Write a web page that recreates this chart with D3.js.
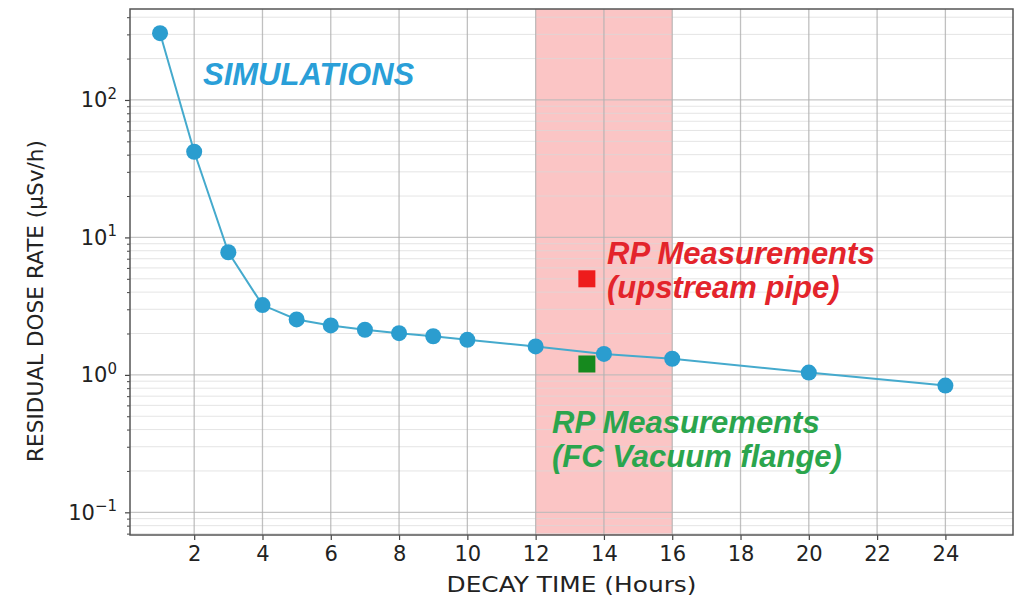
<!DOCTYPE html>
<html>
<head>
<meta charset="utf-8">
<script src="https://cdn.jsdelivr.net/npm/d3@7"></script>
<style>
  html, body { margin: 0; padding: 0; background: #fff; }
  svg { display: block; }
</style>
</head>
<body>
<svg id="chart" width="1023" height="598"></svg>
<script>
// Simulated residual dose rate vs decay time
const decayHours = [1, 2, 3, 4, 5, 6, 7, 8, 9, 10, 12, 14, 16, 20, 24];
const doseRate   = [306, 42, 7.8, 3.22, 2.53, 2.29, 2.13, 2.01, 1.91, 1.80, 1.61, 1.42, 1.31, 1.04, 0.836];

// RP measurements at 13.5 h
const measureHours = [13.5, 13.5];
const measureDose  = [5.0, 1.2];
const measureColors = ["#ee1c1c", "#16891e"];

// Shaded window of decay time
const windowHours = [12, 16];

const xTicks = [2, 4, 6, 8, 10, 12, 14, 16, 18, 20, 22, 24];
const yMajorTicks = [0.1, 1, 10, 100];
const yTickExp = ["\u22121", "0", "1", "2"];

const svg = d3.select("#chart");
const plotL = 130, plotR = 1013, plotT = 9, plotB = 535;

const x = d3.scaleLinear().domain([0.12, 25.98]).range([plotL, plotR]);
const y = d3.scaleLog().domain([0.0684, 459]).range([plotB, plotT]);

// minor log ticks 2..9 per decade
const yMinor = [];
for (const dec of [0.01, 0.1, 1, 10, 100]) {
  for (let k = 2; k <= 9; k++) {
    const v = dec * k;
    if (v >= y.domain()[0] && v <= y.domain()[1]) yMinor.push(v);
  }
}

// shaded span
svg.append("rect")
  .attr("x", x(windowHours[0]))
  .attr("y", plotT)
  .attr("width", x(windowHours[1]) - x(windowHours[0]))
  .attr("height", plotB - plotT)
  .attr("fill", "#fbc5c5");

// grids
const grid = svg.append("g");
grid.selectAll(".ymin").data(yMinor).join("line")
  .attr("x1", plotL).attr("x2", plotR)
  .attr("y1", d => y(d)).attr("y2", d => y(d))
  .attr("stroke", "#d8d8d8").attr("stroke-opacity", 0.7).attr("stroke-width", 1);
grid.selectAll(".ymaj").data(yMajorTicks).join("line")
  .attr("x1", plotL).attr("x2", plotR)
  .attr("y1", d => y(d)).attr("y2", d => y(d))
  .attr("stroke", "#b8b8b8").attr("stroke-opacity", 0.8).attr("stroke-width", 1.3);
grid.selectAll(".xmaj").data(xTicks).join("line")
  .attr("y1", plotT).attr("y2", plotB)
  .attr("x1", d => x(d)).attr("x2", d => x(d))
  .attr("stroke", "#b0b0b0").attr("stroke-opacity", 0.8).attr("stroke-width", 1.3);

// x axis
const xAxis = svg.append("g")
  .attr("transform", `translate(0,${plotB})`)
  .call(d3.axisBottom(x).tickValues(xTicks).tickSize(5).tickPadding(6).tickFormat(d3.format("d")));
xAxis.select(".domain").remove();
xAxis.selectAll("line").attr("stroke", "#444").attr("stroke-width", 1.2);
xAxis.selectAll("text")
  .attr("font-family", "DejaVu Sans").attr("font-size", 21).attr("fill", "#222");

// y axis major ticks
const yAxis = svg.append("g")
  .attr("transform", `translate(${plotL},0)`)
  .call(d3.axisLeft(y).tickValues(yMajorTicks).tickSize(5).tickPadding(8).tickFormat(() => ""));
yAxis.select(".domain").remove();
yAxis.selectAll("line").attr("stroke", "#444").attr("stroke-width", 1.2);
yAxis.selectAll(".tick text").each(function(d, i) {
  const t = d3.select(this)
    .attr("font-family", "DejaVu Sans").attr("font-size", 21).attr("fill", "#222")
    .attr("dy", "0.32em");
  t.append("tspan").text("10");
  t.append("tspan").text(yTickExp[i]).attr("font-size", 15).attr("dy", "-0.55em");
});

// y axis minor ticks
const yAxisMinor = svg.append("g")
  .attr("transform", `translate(${plotL},0)`)
  .call(d3.axisLeft(y).tickValues(yMinor).tickSize(3).tickFormat(() => ""));
yAxisMinor.select(".domain").remove();
yAxisMinor.selectAll("line").attr("stroke", "#444").attr("stroke-width", 1);

// frame
svg.append("rect")
  .attr("x", plotL).attr("y", plotT)
  .attr("width", plotR - plotL).attr("height", plotB - plotT)
  .attr("fill", "none").attr("stroke", "#555").attr("stroke-width", 1.5);

// simulation line and markers
const line = d3.line().x((d, i) => x(decayHours[i])).y(d => y(d));
svg.append("path")
  .datum(doseRate)
  .attr("d", line)
  .attr("fill", "none")
  .attr("stroke", "#45aacd")
  .attr("stroke-width", 2);
svg.append("g").selectAll("circle").data(doseRate).join("circle")
  .attr("cx", (d, i) => x(decayHours[i]))
  .attr("cy", d => y(d))
  .attr("r", 8)
  .attr("fill", "#2b9dcf");

// measurement squares
const sq = 17;
svg.append("g").selectAll("rect").data(measureDose).join("rect")
  .attr("x", (d, i) => x(measureHours[i]) - sq / 2)
  .attr("y", d => y(d) - sq / 2)
  .attr("width", sq).attr("height", sq)
  .attr("fill", (d, i) => measureColors[i]);

// annotations
const annot = svg.append("g")
  .attr("font-family", "Liberation Sans, Arial, sans-serif")
  .attr("font-weight", "bold")
  .attr("font-style", "italic")
  .attr("font-size", 31);
annot.append("text").attr("x", 203).attr("y", 85).attr("fill", "#2a9fd8").text("SIMULATIONS");
annot.append("text").attr("x", 607).attr("y", 264).attr("fill", "#e3242b").text("RP Measurements");
annot.append("text").attr("x", 607).attr("y", 298).attr("fill", "#e3242b").text("(upstream pipe)");
annot.append("text").attr("x", 552).attr("y", 433).attr("fill", "#2ba54d").text("RP Measurements");
annot.append("text").attr("x", 552).attr("y", 467).attr("fill", "#2ba54d").text("(FC Vacuum flange)");

// axis titles
svg.append("text")
  .attr("x", (plotL + plotR) / 2).attr("y", 592)
  .attr("text-anchor", "middle")
  .attr("font-family", "DejaVu Sans").attr("font-size", 22).attr("fill", "#222")
  .attr("textLength", 250).attr("lengthAdjust", "spacingAndGlyphs")
  .text("DECAY TIME (Hours)");
svg.append("text")
  .attr("transform", "translate(43,301) rotate(-90)")
  .attr("text-anchor", "middle")
  .attr("font-family", "DejaVu Sans").attr("font-size", 22).attr("fill", "#222")
  .attr("textLength", 322).attr("lengthAdjust", "spacingAndGlyphs")
  .text("RESIDUAL DOSE RATE (\u03bcSv/h)");
</script>
</body>
</html>
